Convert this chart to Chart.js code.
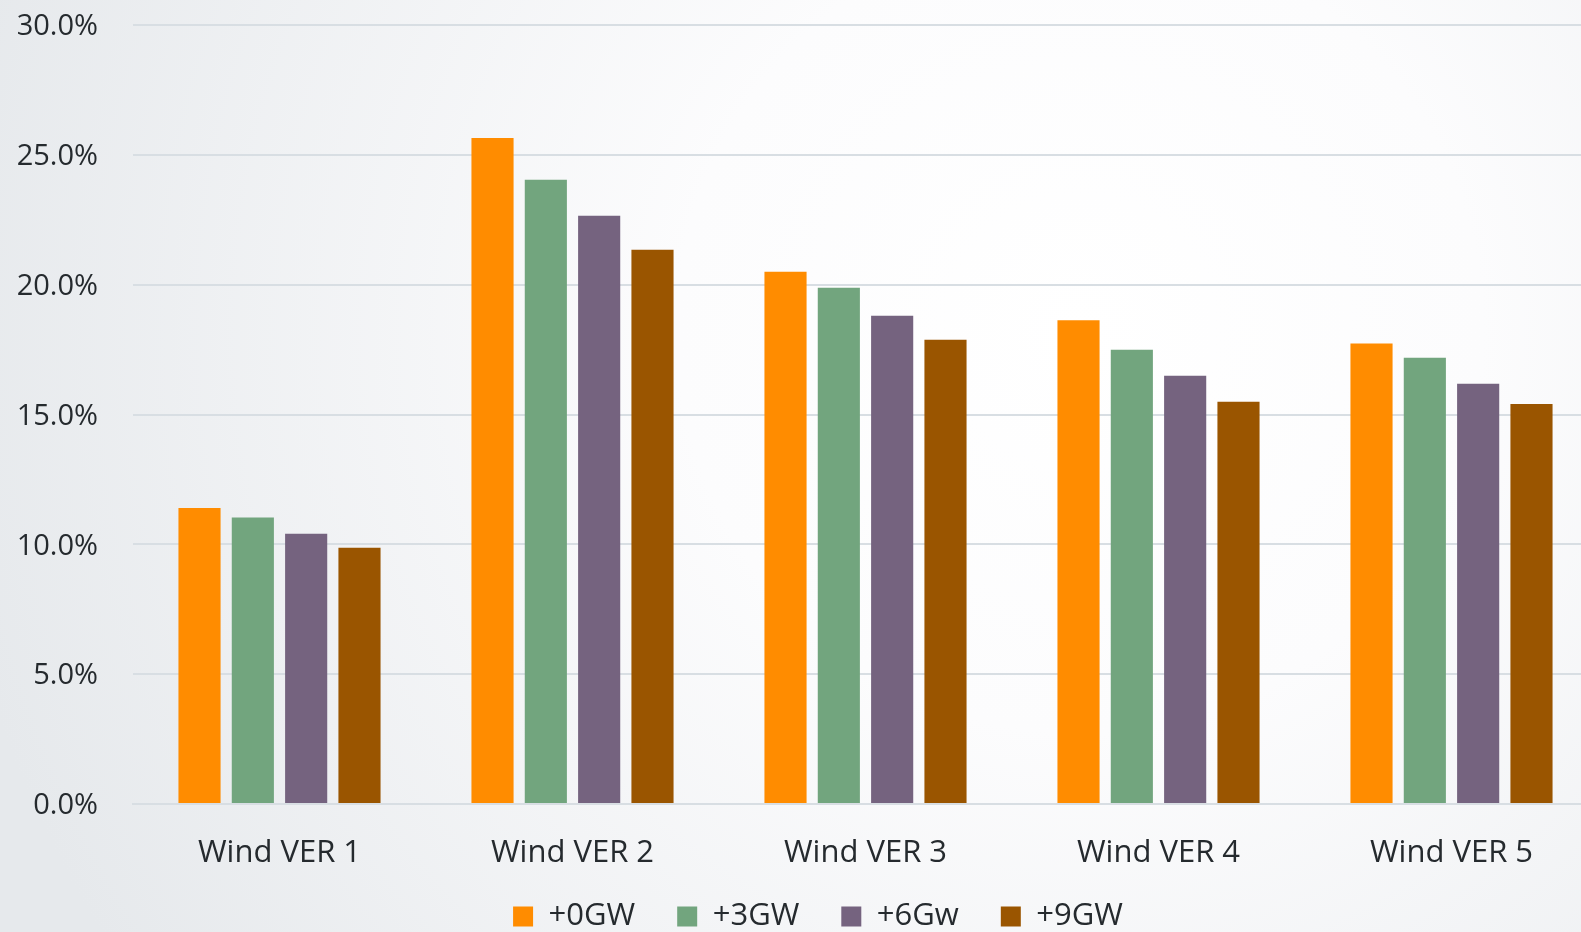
<!DOCTYPE html>
<html>
<head>
<meta charset="utf-8">
<title>Wind VER</title>
<script src="https://cdn.jsdelivr.net/npm/chart.js@4/dist/chart.umd.min.js"></script>
<style>
  html, body { margin: 0; padding: 0; background: #e8ebee; overflow: hidden; }
  /* the original plot runs a little past the right edge of the picture */
  #wrap { width: 1598px; height: 932px; position: relative; }
</style>
</head>
<body>
<div id="wrap"><canvas id="chart"></canvas></div>
<script>
// chart data
const categories = ['Wind VER 1', 'Wind VER 2', 'Wind VER 3', 'Wind VER 4', 'Wind VER 5'];
const seriesNames = ['+0GW', '+3GW', '+6Gw', '+9GW'];
const gw0 = [11.4, 25.65, 20.5, 18.63, 17.73];
const gw3 = [11.03, 24.04, 19.88, 17.49, 17.19];
const gw6 = [10.41, 22.65, 18.8, 16.49, 16.18];
const gw9 = [9.87, 21.34, 17.88, 15.49, 15.4];
const yTicks = [0, 5, 10, 15, 20, 25, 30];

const colors = ['#FF8C00', '#72A57E', '#75637F', '#9A5500'];
const FONT = '"Open Sans", "Noto Sans", sans-serif';
const TEXT = '#252a2e';

// soft radial background like the original slide
const bgPlugin = {
  id: 'bg',
  beforeDraw(chart) {
    const { ctx, width, height } = chart;
    const g = ctx.createRadialGradient(1080, 330, 0, 1080, 330, 1150);
    g.addColorStop(0, '#ffffff');
    g.addColorStop(0.35, '#fcfcfd');
    g.addColorStop(1, '#e6e9ec');
    ctx.save();
    ctx.fillStyle = g;
    ctx.fillRect(0, 0, width, height);
    ctx.restore();
  }
};

// the legend in the original sits a bit right of the canvas centre,
// and higher than its wide item padding would put it
const legendShift = {
  id: 'legendShift',
  beforeDraw(chart) {
    const lg = chart.legend;
    if (lg) {
      lg.left += 19;
      lg.right += 19;
      lg.top -= 15;
      lg.bottom -= 15;
    }
  }
};

const datasets = [gw0, gw3, gw6, gw9].map((vals, i) => ({
  label: seriesNames[i],
  data: vals,
  backgroundColor: colors[i],
  borderWidth: 0,
  categoryPercentage: 0.728,
  barPercentage: 0.79
}));

new Chart(document.getElementById('chart'), {
  type: 'bar',
  data: { labels: categories, datasets },
  plugins: [bgPlugin, legendShift],
  options: {
    responsive: true,
    maintainAspectRatio: false,
    animation: false,
    layout: { padding: { top: 25, right: 0, left: 0, bottom: -25 } },
    plugins: {
      tooltip: { enabled: false },
      legend: {
        position: 'bottom',
        labels: {
          color: TEXT,
          font: { family: FONT, size: 31 },
          boxWidth: 20,
          boxHeight: 20,
          padding: 42
        }
      }
    },
    scales: {
      x: {
        grid: { display: false, drawTicks: false },
        border: { color: '#d8dee3', width: 2 },
        ticks: { color: TEXT, font: { family: FONT, size: 31 }, padding: 31 },
        afterFit(s) { s.height = 70; }
      },
      y: {
        min: 0,
        max: 30,
        afterBuildTicks(s) { s.ticks = yTicks.map(v => ({ value: v })); },
        grid: { color: '#d8dee3', lineWidth: 2, drawTicks: false },
        border: { display: false },
        ticks: {
          color: TEXT,
          font: { family: FONT, size: 29 },
          padding: 35,
          labelOffset: 2,
          callback: v => v.toFixed(1) + '%'
        },
        afterFit(s) {
          s.width = 133;
          s.paddingTop = 0;
          s.paddingBottom = 0;
        }
      }
    }
  }
});
</script>
</body>
</html>
